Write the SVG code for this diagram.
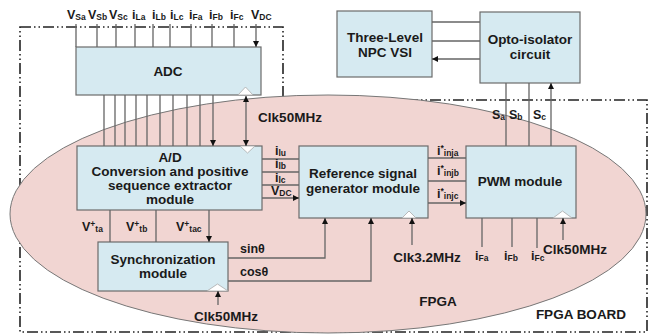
<svg xmlns="http://www.w3.org/2000/svg" width="653" height="335" viewBox="0 0 653 335">
<defs>
<marker id="ah" viewBox="0 0 8 8" refX="8" refY="4" markerWidth="6" markerHeight="6" markerUnits="userSpaceOnUse" orient="auto-start-reverse">
<path d="M0,0 L8,4 L0,8 z" fill="#111"/>
</marker>
</defs>
<style>
.box{fill:#d6eaf1;stroke:#6b6b6b;stroke-width:1.2}
.t{font-family:"Liberation Sans",Arial,sans-serif;font-weight:bold;fill:#1a1a1a}
.lg{font-size:13.5px;text-anchor:middle}
.sm{font-size:12.5px}
.sb{font-size:8.5px}
.ln{fill:none;stroke:#666;stroke-width:1.3}
.arr{marker-end:url(#ah)}
.both{marker-start:url(#ah);marker-end:url(#ah)}
.clk{fill:#fff;stroke:#aaa;stroke-width:0.8}
.bd{fill:none;stroke:#222;stroke-width:1.6;stroke-dasharray:11 3 1.5 3 1.5 3}
</style>
<rect width="653" height="335" fill="#fff"/>
<g id="board">
<path class="bd" d="M20,27 H283 V100 H647 V332 H20 Z"/>
</g>
<g id="fpga">
<ellipse cx="328" cy="214" rx="318" ry="119" fill="#f1d5d2" stroke="#777" stroke-width="1"/>
<text class="t lg" x="438" y="306">FPGA</text>
</g>
<text class="t lg" x="581" y="319">FPGA BOARD</text>

<g id="adc">
<rect class="box" x="76" y="47" width="185" height="48"/>
<polygon class="clk" points="238,95 253,95 245.5,87"/>
<text class="t lg" x="168" y="76">ADC</text>
</g>
<g id="ad">
<rect class="box" x="77" y="146" width="185" height="64"/>
<polygon class="clk" points="240,146 255,146 247.5,153"/>
<text class="t lg" x="170" y="162">A/D</text>
<text class="t lg" x="170" y="176">Conversion and positive</text>
<text class="t lg" x="170" y="190">sequence extractor</text>
<text class="t lg" x="170" y="204">module</text>
</g>
<g id="ref">
<rect class="box" x="299" y="146" width="129" height="72"/>
<polygon class="clk" points="402,218 416,218 409,211"/>
<text class="t lg" x="363" y="178">Reference signal</text>
<text class="t lg" x="363" y="193">generator module</text>
</g>
<g id="pwm">
<rect class="box" x="466" y="146" width="110" height="72"/>
<polygon class="clk" points="553,218 572,218 562.5,211"/>
<text class="t lg" x="520" y="186">PWM module</text>
</g>
<g id="opto">
<rect class="box" x="480" y="12" width="100" height="71"/>
<text class="t lg" x="530" y="44">Opto-isolator</text>
<text class="t lg" x="530" y="59">circuit</text>
</g>
<g id="npc">
<rect class="box" x="337" y="11" width="95" height="66"/>
<text class="t lg" x="385" y="42">Three-Level</text>
<text class="t lg" x="385" y="57">NPC VSI</text>
</g>
<g id="sync">
<rect class="box" x="98" y="242" width="130" height="49"/>
<polygon class="clk" points="207,291 228,291 217.5,284"/>
<text class="t lg" x="163" y="264">Synchronization</text>
<text class="t lg" x="163" y="278">module</text>
</g>

<g id="connectors">
<path class="ln arr" d="M76,24V47M97,24V47M116,24V47M135,24V47M153,24V47M170,24V47M191,24V47M212,24V47M234,24V47M256,24V47"/>
<path class="ln arr" d="M104,95V146M115,95V146M125,95V146M136,95V146M147,95V146M160,95V146M173,95V146M187,95V146M200,95V146M213,95V146"/>
<path class="ln both" d="M246,96V146"/>
<path class="ln arr" d="M262,159H299M262,172H299M262,185H299M262,198H299"/>
<path class="ln arr" d="M428,158H466M428,181H466M428,203H466"/>
<path class="ln arr" d="M506,146V83M529,146V83M551,146V83"/>
<path class="ln arr" d="M480,22H432M480,41H432M480,59H432"/>
<path class="ln arr" d="M110,210V242M156,210V242M209,210V242"/>
<path class="ln arr" d="M228,258H325V218"/>
<path class="ln arr" d="M228,281H371V218"/>
<path class="ln arr" d="M412,245V218"/>
<path class="ln arr" d="M218,305V291"/>
<path class="ln arr" d="M482,247V218M512,247V218M537,248V218M563,240V218"/>
</g>

<g id="labels">
<text class="t sm" x="67" y="19">V<tspan class="sb" dy="1">Sa</tspan></text>
<text class="t sm" x="88" y="19">V<tspan class="sb" dy="1">Sb</tspan></text>
<text class="t sm" x="109" y="19">V<tspan class="sb" dy="1">Sc</tspan></text>
<text class="t sm" x="132" y="19">i<tspan class="sb" dy="1">La</tspan></text>
<text class="t sm" x="152" y="19">i<tspan class="sb" dy="1">Lb</tspan></text>
<text class="t sm" x="170" y="19">i<tspan class="sb" dy="1">Lc</tspan></text>
<text class="t sm" x="189" y="19">i<tspan class="sb" dy="1">Fa</tspan></text>
<text class="t sm" x="209" y="19">i<tspan class="sb" dy="1">Fb</tspan></text>
<text class="t sm" x="230" y="19">i<tspan class="sb" dy="1">Fc</tspan></text>
<text class="t sm" x="251" y="19">V<tspan class="sb" dy="1">DC</tspan></text>

<text class="t lg" x="290" y="122">Clk50MHz</text>

<text class="t sm" x="275" y="155">i<tspan class="sb" dy="1">lu</tspan></text>
<text class="t sm" x="275" y="168">i<tspan class="sb" dy="1">lb</tspan></text>
<text class="t sm" x="275" y="182">i<tspan class="sb" dy="1">lc</tspan></text>
<text class="t sm" x="271" y="195">V<tspan class="sb" dy="1">DC</tspan></text>

<text class="t sm" x="437" y="155">i<tspan class="sb" dy="-4">*</tspan><tspan class="sb" dy="5">inja</tspan></text>
<text class="t sm" x="437" y="175">i<tspan class="sb" dy="-4">*</tspan><tspan class="sb" dy="5">injb</tspan></text>
<text class="t sm" x="437" y="198">i<tspan class="sb" dy="-4">*</tspan><tspan class="sb" dy="5">injc</tspan></text>

<text class="t sm" x="492" y="119">S<tspan class="sb" dy="1">a</tspan></text>
<text class="t sm" x="509" y="119">S<tspan class="sb" dy="1">b</tspan></text>
<text class="t sm" x="533" y="119">S<tspan class="sb" dy="1">c</tspan></text>

<text class="t sm" x="82" y="231">V<tspan class="sb" dy="-4">+</tspan><tspan class="sb" dy="5">ta</tspan></text>
<text class="t sm" x="126" y="231">V<tspan class="sb" dy="-4">+</tspan><tspan class="sb" dy="5">tb</tspan></text>
<text class="t sm" x="176" y="231">V<tspan class="sb" dy="-4">+</tspan><tspan class="sb" dy="5">tac</tspan></text>

<text class="t sm" x="240" y="253">sinθ</text>
<text class="t sm" x="240" y="276">cosθ</text>

<text class="t lg" x="427" y="262">Clk3.2MHz</text>
<text class="t lg" x="226" y="321">Clk50MHz</text>
<text class="t lg" x="575" y="254">Clk50MHz</text>

<text class="t sm" x="475" y="260">i<tspan class="sb" dy="1">Fa</tspan></text>
<text class="t sm" x="504" y="260">i<tspan class="sb" dy="1">Fb</tspan></text>
<text class="t sm" x="531" y="260">i<tspan class="sb" dy="1">Fc</tspan></text>
</g>
</svg>
